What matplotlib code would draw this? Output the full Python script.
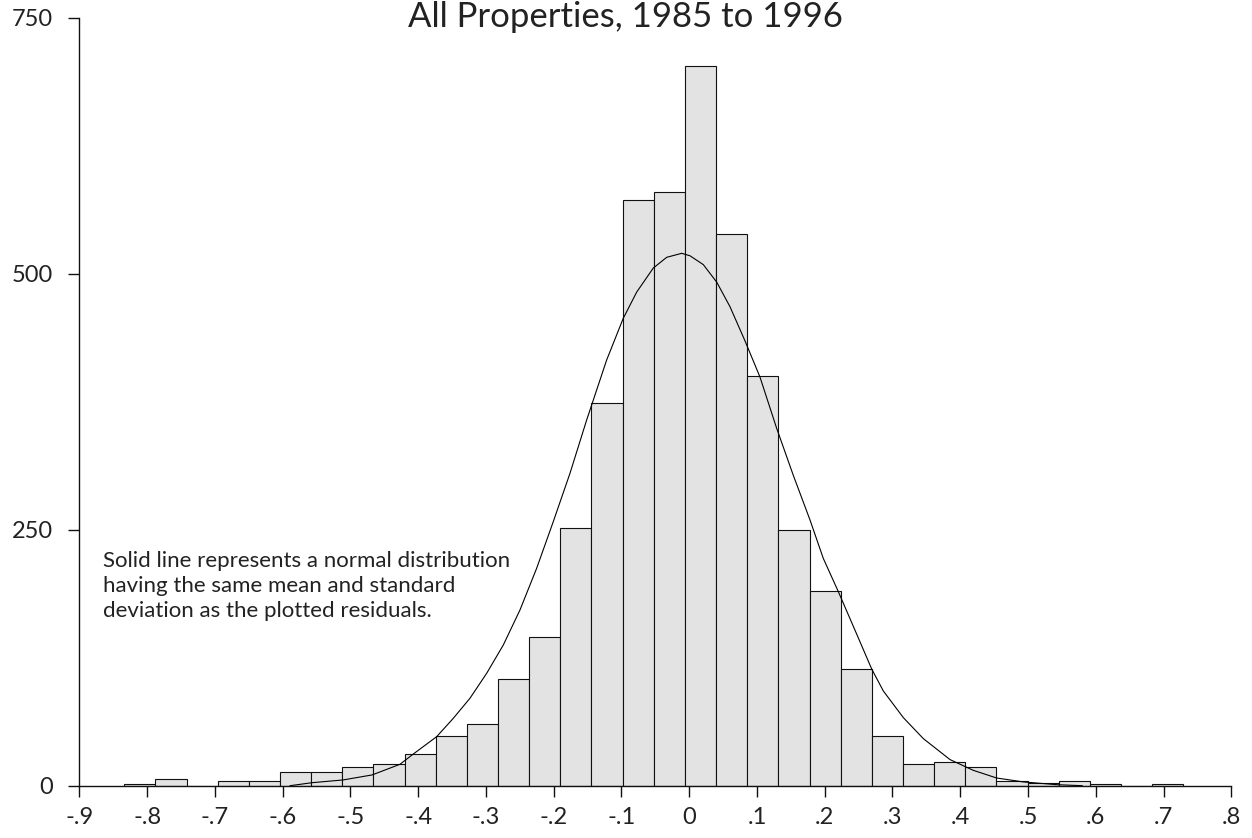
import matplotlib
matplotlib.use("Agg")
import matplotlib.pyplot as plt
from matplotlib import font_manager
import numpy as np

# ---- data ----
bin_start = -0.8337
bin_width = 0.04597
counts = [2, 7, 0, 5, 5, 13, 13, 18, 21, 31,
          49, 60, 104, 145, 252, 374, 572, 580, 703, 539,
          400, 250, 190, 114, 49, 21, 23, 18, 5, 3,
          5, 2, 0, 2]

curve_x = [-0.589, -0.557, -0.511, -0.468, -0.4268, -0.407, -0.3726, -0.3481,
           -0.3235, -0.2988, -0.2743, -0.2497, -0.2251, -0.2006, -0.1759,
           -0.1513, -0.1218, -0.0973, -0.0775, -0.053, -0.0332, -0.0111,
           0.0012, 0.0208, 0.0406, 0.0602, 0.0823, 0.1045, 0.1291, 0.1537,
           0.1783, 0.1979, 0.2201, 0.2472, 0.2693, 0.2865, 0.316, 0.3455,
           0.3849, 0.4193, 0.4538, 0.493, 0.5424, 0.58]
curve_y = [0, 2.9, 5.6, 10.5, 20.9, 31, 47.9, 65.8,
           85.4, 109.8, 137.4, 171.6, 212.3, 257.8, 305.1,
           357.1, 415.7, 456.4, 482.0, 505.5, 516.0, 519.9,
           517.5, 508.9, 491.8, 467.8, 434.5, 399.0, 349.0, 303.0,
           259.5, 222.0, 189.5, 148.0, 114.0, 92.5, 66.5, 46.0,
           25.5, 15.0, 7.5, 3.7, 1.0, 0]

x_ticks = [-0.9, -0.8, -0.7, -0.6, -0.5, -0.4, -0.3, -0.2, -0.1, 0,
           0.1, 0.2, 0.3, 0.4, 0.5, 0.6, 0.7, 0.8]
x_tick_labels = ["-.9", "-.8", "-.7", "-.6", "-.5", "-.4", "-.3", "-.2", "-.1", "0",
                 ".1", ".2", ".3", ".4", ".5", ".6", ".7", ".8"]
y_ticks = [0, 250, 500, 750]
y_tick_labels = ["0", "250", "500", "750"]

title = "All Properties, 1985 to 1996"
note_lines = ["Solid line represents a normal distribution",
              "having the same mean and standard",
              "deviation as the plotted residuals."]

# ---- font ----
names = {f.name for f in font_manager.fontManager.ttflist}
fam = "Lato" if "Lato" in names else "DejaVu Sans"
plt.rcParams["font.family"] = [fam, "DejaVu Sans"]
plt.rcParams["font.weight"] = "normal"

TXT = "#222222"

fig = plt.figure(figsize=(12.52, 8.38), dpi=100)
ax = fig.add_axes([79.3 / 1252, (838 - 785.7) / 838,
                   (1231.3 - 79.3) / 1252, (785.7 - 17.7) / 838])

edges = bin_start + bin_width * np.arange(len(counts))
ax.bar(edges, counts, width=bin_width, align="edge",
       color="#e3e3e3", edgecolor="#111111", linewidth=0.8, zorder=2)
ax.plot(curve_x, curve_y, color="black", linewidth=0.8, zorder=3)

ax.set_xlim(-0.9, 0.8)
ax.set_ylim(0, 750)
ax.set_xticks(x_ticks)
ax.set_xticklabels(x_tick_labels)
ax.set_yticks(y_ticks)
ax.set_yticklabels(y_tick_labels)

for s in ("top", "right"):
    ax.spines[s].set_visible(False)
for s in ("left", "bottom"):
    ax.spines[s].set_linewidth(1.0)
    ax.spines[s].set_color("#111111")

ax.tick_params(axis="both", direction="out", length=8, width=1.0,
               color="#111111", labelsize=17, labelcolor=TXT)
ax.tick_params(axis="x", pad=7)
ax.tick_params(axis="y", pad=11)

line_baselines_px = [566.7, 591.7, 616.7]
for txt, ypx in zip(note_lines, line_baselines_px):
    yfig = (838 - ypx) / 838
    fig.text(103 / 1252, yfig, txt, ha="left", va="baseline",
             fontsize=16, color=TXT, zorder=4)

fig.text(0.4996, (838 - 26.7) / 838, title, ha="center", va="baseline",
         fontsize=25, color=TXT)

fig.savefig("out.png", dpi=100)
